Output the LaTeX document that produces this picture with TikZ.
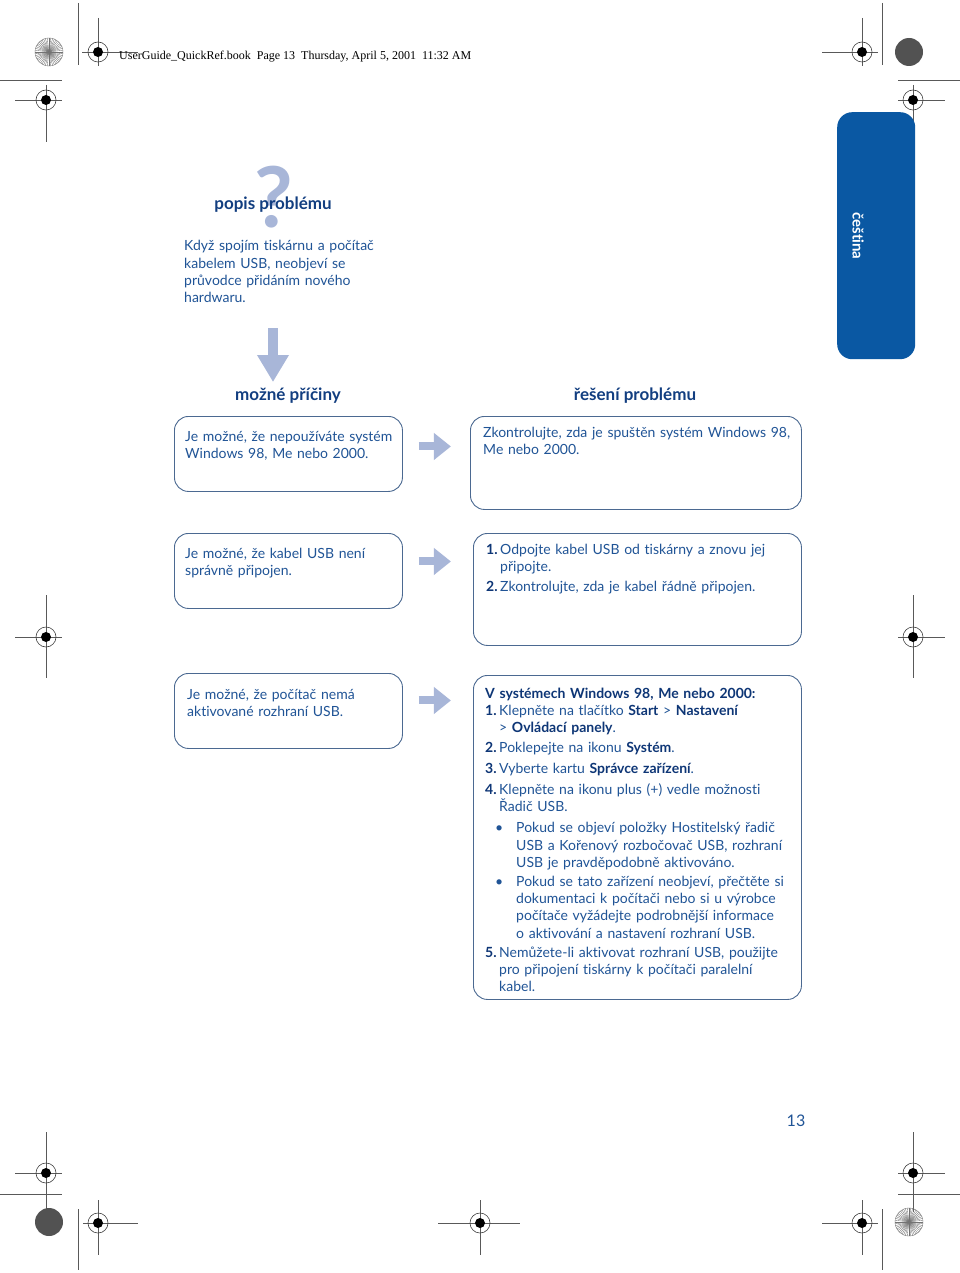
\documentclass[tikz,border=0pt]{standalone}
\usepackage{fontspec}
\setmainfont{Lato}[Ligatures=CommonOff]
\newfontfamily\headfont{Liberation Serif}
\usetikzlibrary{arrows.meta}

\definecolor{hpblue}{RGB}{32,84,150}
\definecolor{hpnavy}{RGB}{14,54,118}
\definecolor{hphead}{RGB}{18,62,128}
\definecolor{hptab}{RGB}{10,88,163}
\definecolor{hplight}{RGB}{168,182,216}
\definecolor{hpline}{RGB}{75,105,145}

\newcommand{\stepno}[1]{\makebox[14pt][l]{\textcolor{hpnavy}{\bfseries #1}}}
\newcommand{\indentno}{\hspace*{14pt}}
\newcommand{\bulletno}{\hspace*{10pt}\makebox[21pt][l]{\textbullet}}
\newcommand{\indentbul}{\hspace*{31pt}}
\newcommand{\keyword}[1]{\textcolor{hpnavy}{\bfseries #1}}

\tikzset{
  target/.pic={
    \draw[black!75, line width=0.6pt] (0,0) circle[radius=10pt];
    \fill[black] (0,0) circle[radius=5pt];
  },
  starburst/.pic={
    \foreach \a in {0,7.5,...,352.5}
      \draw[black!55, line width=0.35pt] (0,0) -- (\a:14pt);
    \draw[black!55, line width=0.4pt] (0,0) circle[radius=14pt];
  },
}

\begin{document}
\begin{tikzpicture}[x=1pt, y=-1pt,
  mark line/.style={draw=black!65, line width=0.7pt},
  box/.style={draw=hpline, line width=0.9pt, rounded corners=14pt, anchor=north west, inner sep=0pt},
  txt/.style={text=hpblue, anchor=base west, align=left, text width=340pt, inner sep=0pt,
    font=\fontsize{14}{17.2}\selectfont},
  heading/.style={text=hphead, anchor=base, inner sep=0pt, font=\bfseries\fontsize{17}{20}\selectfont},
  flow/.style={hplight, line width=8pt, -{Triangle[width=26pt, length=17pt]}},
]
\fill[white] (0,0) rectangle (960,1273);
\useasboundingbox (0,0) rectangle (960,1273);

% crop and registration marks
\pic at (49,52) {starburst};
\draw[mark line] (78,3) -- (78,65);
\draw[mark line] (82,52) -- (138,52) (98,18) -- (98,66);
\pic at (98,52) {target};
\draw[mark line] (0,80) -- (62,80);
\draw[mark line] (15,100) -- (62,100) (46,85) -- (46,142);
\pic at (46,100) {target};

\draw[mark line] (822,52) -- (878,52) (862,18) -- (862,66);
\pic at (862,52) {target};
\draw[mark line] (882,3) -- (882,65);
\fill[black!68] (909,52) circle[radius=14pt];
\draw[mark line] (898,80) -- (960,80);
\draw[mark line] (898,100) -- (945,100) (913,85) -- (913,142);
\pic at (913,100) {target};

\draw[mark line] (15,637) -- (62,637) (46,595) -- (46,678);
\pic at (46,637) {target};
\draw[mark line] (898,637) -- (945,637) (913,595) -- (913,678);
\pic at (913,637) {target};

\draw[mark line] (15,1173) -- (62,1173) (46,1132) -- (46,1212);
\pic at (46,1173) {target};
\draw[mark line] (0,1194) -- (62,1194);
\fill[black!68] (49,1222) circle[radius=14pt];
\draw[mark line] (78,1209) -- (78,1270);
\draw[mark line] (83,1223) -- (138,1223) (98,1200) -- (98,1255);
\pic at (98,1223) {target};

\draw[mark line] (438,1223) -- (520,1223) (480,1200) -- (480,1255);
\pic at (480,1223) {target};

\draw[mark line] (898,1173) -- (945,1173) (913,1132) -- (913,1212);
\pic at (913,1173) {target};
\draw[mark line] (898,1194) -- (960,1194);
\pic at (909,1222) {starburst};
\draw[mark line] (882,1209) -- (882,1270);
\draw[mark line] (822,1223) -- (878,1223) (862,1200) -- (862,1255);
\pic at (862,1223) {target};

\node[anchor=base west, inner sep=0pt, font=\headfont\fontsize{12}{13}\selectfont] (header) at (119,60)
  {UserGuide\_QuickRef.book\ \ Page 13\ \ Thursday, April 5, 2001\ \ 11:32 AM};

% language tab
\node[fill=hptab, rounded corners=15pt, anchor=north west, minimum width=78pt, minimum height=247pt] (tab) at (837,112) {};
\node[rotate=-90, text=white, font=\bfseries\fontsize{15}{17}\selectfont] (lang) at (858,236) {čeština};

% problem
\node[text=hplight, anchor=base, inner sep=0pt, font=\bfseries\fontsize{84}{84}\selectfont] (qmark) at (274,228) {?};
\node[heading] (problem) at (273,210) {popis problému};
\node[txt] (probtxt) at (184,251) {Když spojím tiskárnu a počítač\\kabelem USB, neobjeví se\\průvodce přidáním nového\\hardwaru.};

\coordinate (downtop) at (273,328);
\coordinate (downtip) at (273,382);
\draw[flow, line width=10pt, -{Triangle[width=30pt, length=27pt]}] (downtop) -- (downtip);

\node[heading] (causes) at (288,400) {možné příčiny};
\node[heading] (fixes) at (635,400) {řešení problému};

% causes and fixes
\node[box, minimum width=228pt, minimum height=75pt] (cause1) at (174,416) {};
\node[box, minimum width=331pt, minimum height=93pt] (fix1) at (470,416) {};
\node[box, minimum width=228pt, minimum height=75pt] (cause2) at (174,533) {};
\node[box, minimum width=328pt, minimum height=112pt] (fix2) at (473,533) {};
\node[box, minimum width=228pt, minimum height=75pt] (cause3) at (174,673) {};
\node[box, minimum width=328pt, minimum height=324pt] (fix3) at (473,675) {};

\node[txt] (cause1txt) at (185,441) {Je možné, že nepoužíváte systém\\Windows 98, Me nebo 2000.};
\node[txt] (fix1txt) at (483,437) {Zkontrolujte, zda je spuštěn systém Windows 98,\\Me nebo 2000.};
\node[txt] (cause2txt) at (185,558) {Je možné, že kabel USB není\\správně připojen.};
\node[txt] (fix2txt) at (486,554) {\stepno{1.}Odpojte kabel USB od tiskárny a znovu jej\\
  \indentno připojte.\\[3pt]
  \stepno{2.}Zkontrolujte, zda je kabel řádně připojen.};
\node[txt] (cause3txt) at (187,699) {Je možné, že počítač nemá\\aktivované rozhraní USB.};
\node[txt] (fix3txt) at (485,698) {\keyword{V systémech Windows 98, Me nebo 2000:}\\
  \stepno{1.}Klepněte na tlačítko \keyword{Start} > \keyword{Nastavení}\\
  \indentno > \keyword{Ovládací panely}.\\[3pt]
  \stepno{2.}Poklepejte na ikonu \keyword{Systém}.\\[3.5pt]
  \stepno{3.}Vyberte kartu \keyword{Správce zařízení}.\\[3.5pt]
  \stepno{4.}Klepněte na ikonu plus (+) vedle možnosti\\
  \indentno Řadič USB.\\[4.5pt]
  \bulletno Pokud se objeví položky Hostitelský řadič\\
  \indentbul USB a Kořenový rozbočovač USB, rozhraní\\
  \indentbul USB je pravděpodobně aktivováno.\\[2pt]
  \bulletno Pokud se tato zařízení neobjeví, přečtěte si\\
  \indentbul dokumentaci k počítači nebo si u výrobce\\
  \indentbul počítače vyžádejte podrobnější informace\\
  \indentbul o aktivování a nastavení rozhraní USB.\\[2pt]
  \stepno{5.}Nemůžete-li aktivovat rozhraní USB, použijte\\
  \indentno pro připojení tiskárny k počítači paralelní\\
  \indentno kabel.};

\draw[flow] ([xshift=16pt, yshift=7.5pt]cause1.east) -- ++(32,0);
\draw[flow] ([xshift=16pt, yshift=9.5pt]cause2.east) -- ++(32,0);
\draw[flow] ([xshift=16pt, yshift=10.5pt]cause3.east) -- ++(32,0);

\node[text=hpblue, font=\fontsize{16}{16}\selectfont] (pageno) at (796,1121) {13};
\end{tikzpicture}
\end{document}
